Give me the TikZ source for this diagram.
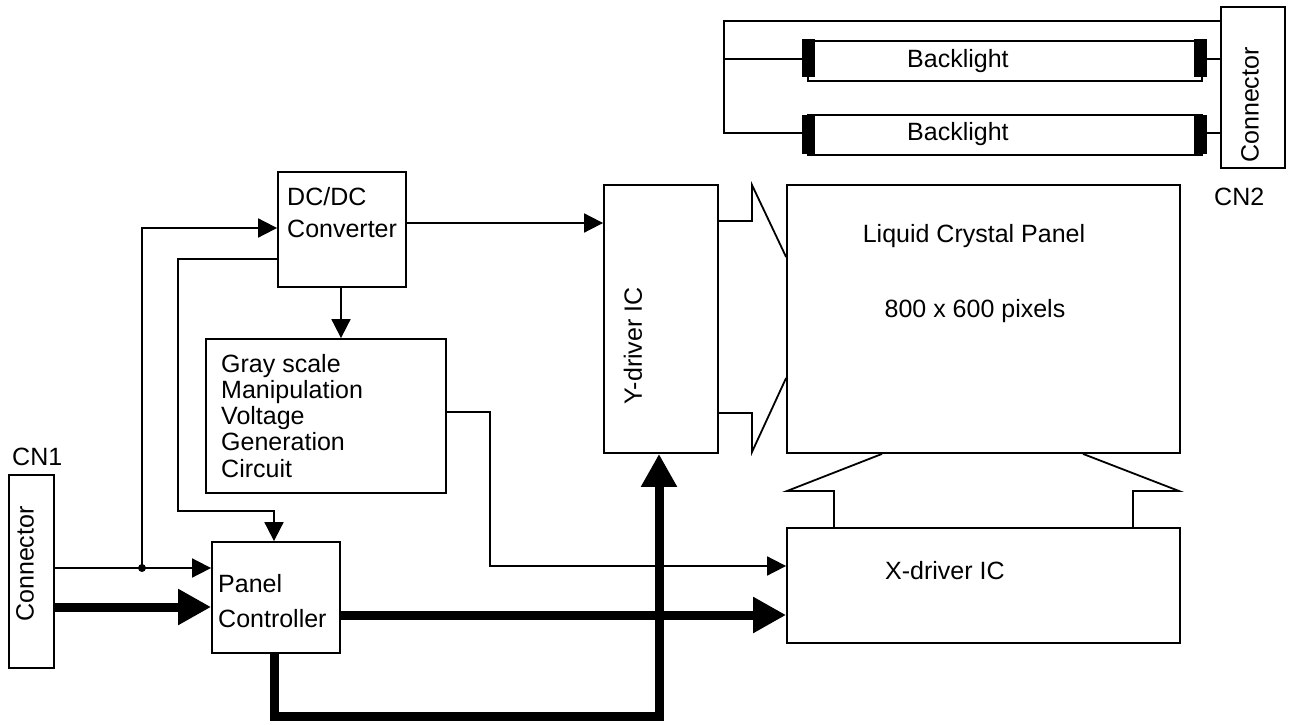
\documentclass[tikz,border=0pt]{standalone}
\usepackage{fontspec}
\setmainfont{Liberation Sans}
\usetikzlibrary{arrows.meta}
\begin{document}
\begin{tikzpicture}[x=1pt,y=-1pt,
  box/.style={draw, line width=1.8pt, inner sep=0pt, rectangle},
  capbox/.style={fill=black, inner sep=0pt, rectangle, minimum width=13pt},
  wire/.style={line width=1.8pt},
  sarrow/.style={wire, -{Triangle[length=19pt,width=19pt]}},
  bus/.style={line width=9pt, line join=miter},
  barrow/.style={bus, -{Triangle[length=33pt,width=34pt]}},
  lbl/.style={inner sep=0pt, font=\fontsize{25}{26}\selectfont, anchor=base west},
  clbl/.style={inner sep=0pt, font=\fontsize{25}{26}\selectfont, anchor=base},
  rlbl/.style={inner sep=0pt, font=\fontsize{25}{26}\selectfont, anchor=center, rotate=90}
]
\useasboundingbox (0,0) rectangle (1294,725);

% boxes
\node[box, minimum width=45pt, minimum height=193pt] (cn1) at (31.5,571.5) {};
\node[box, minimum width=128pt, minimum height=111pt] (pc) at (276,597.5) {};
\node[box, minimum width=128pt, minimum height=115pt] (dcdc) at (342,229.5) {};
\node[box, minimum width=240pt, minimum height=154pt] (gray) at (326,416) {};
\node[box, minimum width=114pt, minimum height=268pt] (ydrv) at (661,319) {};
\node[box, minimum width=393pt, minimum height=268pt] (lcd) at (983.5,319) {};
\node[box, minimum width=393pt, minimum height=115pt] (xdrv) at (983.5,585.5) {};
\node[box, minimum width=64pt, minimum height=161pt] (cn2) at (1253,87.5) {};

% backlight tubes
\node[box, minimum width=394pt, minimum height=40pt] (tube1) at (1005,61) {};
\node[box, minimum width=394pt, minimum height=40pt] (tube2) at (1005,135) {};
\node[capbox, minimum height=38pt] (c1l) at (808.5,58) {};
\node[capbox, minimum height=38pt] (c1r) at (1200.5,58) {};
\node[capbox, minimum height=39pt] (c2l) at (808.5,134.5) {};
\node[capbox, minimum height=39pt] (c2r) at (1200.5,134.5) {};

% texts
\node[lbl] (t1) at (907,67) {Backlight};
\node[lbl] (t2) at (907,140) {Backlight};
\node[rlbl] (t3) at (1250,105) {Connector};
\node[lbl] (t4) at (1214,205) {CN2};
\node[lbl] (t5) at (287,205) {DC/DC};
\node[lbl] (t6) at (287,237) {Converter};
\node[lbl] (t7) at (221,372) {Gray scale};
\node[lbl] (t8) at (221,398.25) {Manipulation};
\node[lbl] (t9) at (221,424.5) {Voltage};
\node[lbl] (t10) at (221,450.75) {Generation};
\node[lbl] (t11) at (221,477) {Circuit};
\node[rlbl] (t12) at (633,346) {Y-driver IC};
\node[clbl] (t13) at (974,242) {Liquid Crystal Panel};
\node[clbl] (t14) at (975,317) {800 x 600 pixels};
\node[lbl] (t15) at (885,579) {X-driver IC};
\node[lbl] (t16) at (12,465) {CN1};
\node[rlbl] (t17) at (25,564) {Connector};
\node[lbl] (t18) at (218,592) {Panel};
\node[lbl] (t19) at (218,627) {Controller};

% backlight wiring
\coordinate (lb) at (724,21);
\draw[wire] (cn2.west |- lb) -- (lb) -- (724,133) -- (c2l.west |- 0,133);
\draw[wire] (724,59) -- (c1l.west |- 0,59);
\draw[wire] (c1r.east |- 0,59) -- (cn2.west |- 0,59);
\draw[wire] (c2r.east |- 0,133) -- (cn2.west |- 0,133);

% thin signal lines
\coordinate (j1) at (142,568);
\draw[sarrow] (cn1.east |- j1) -- (pc.west |- j1);
\fill (j1) circle (4pt);
\draw[sarrow] (j1) |- (dcdc.west |- 0,228);
\draw[sarrow] (dcdc.west |- 0,259) -| (178,511) -- (274,511) -- (pc.north -| 274,0);
\draw[sarrow] (dcdc.south -| 341,0) -- (gray.north -| 341,0);
\draw[sarrow] (gray.east |- 0,412) -| (490,566) -- (xdrv.west |- 0,566);
\draw[sarrow] (dcdc.east |- 0,223) -- (ydrv.west |- 0,223);

% buses
\draw[barrow] (cn1.east |- 0,607) -- (pc.west |- 0,607);
\draw[barrow] (pc.east |- 0,615) -- (xdrv.west |- 0,615);
\draw[barrow] (pc.south -| 274,0) -- (274,716) -- (659,716) -- (ydrv.south -| 659,0);

% wide connectors Y-driver -> panel
\draw[wire, line join=miter] (ydrv.east |- 0,221) -- (752,221) -- (752,185) -- (lcd.west |- 0,257);
\draw[wire, line join=miter] (ydrv.east |- 0,413) -- (752,413) -- (752,452) -- (lcd.west |- 0,378);

% wide connector X-driver -> panel
\draw[wire, line join=miter] (lcd.south -| 882,0) -- (787,491) -- (834,491) -- (xdrv.north -| 834,0);
\draw[wire, line join=miter] (lcd.south -| 1083,0) -- (1179,491) -- (1133,491) -- (xdrv.north -| 1133,0);
\end{tikzpicture}
\end{document}
